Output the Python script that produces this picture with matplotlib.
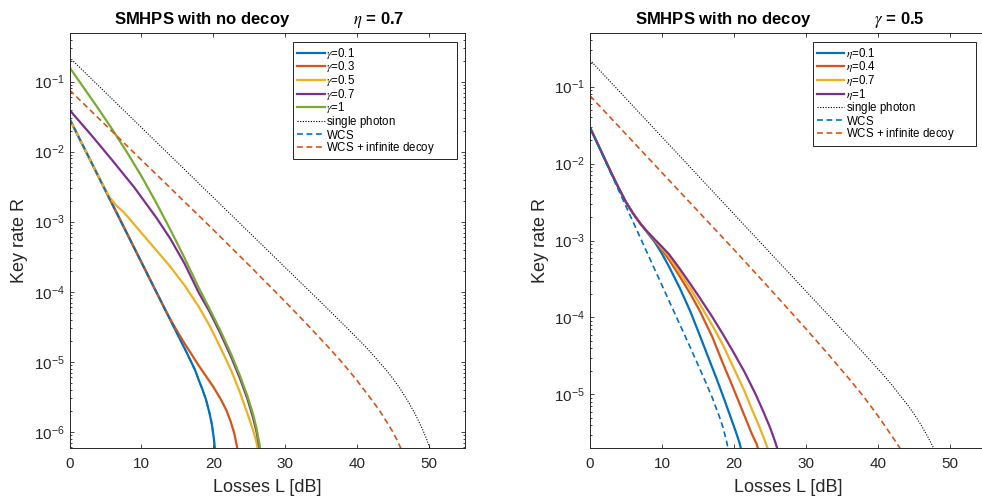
import matplotlib
matplotlib.use('Agg')
import matplotlib.pyplot as plt
from matplotlib.ticker import LogLocator, NullFormatter, MultipleLocator, FixedLocator

plt.rcParams['font.family'] = ['Liberation Sans', 'DejaVu Sans']
plt.rcParams['mathtext.fontset'] = 'stix'

# MATLAB default line colours
blue, orange, yellow, purple, green = '#0072BD', '#D95319', '#EDB120', '#7E2F8E', '#77AC30'
axcol = '#262626'

# ---- data (losses L in dB, key rate R) ----
# curves shared by both panels
L_single = [0, 10, 20, 30, 36, 39, 41, 42, 43, 44, 45, 46, 47, 48, 49, 49.5, 50, 50.4, 50.7]
R_single = [0.2213, 2.213e-2, 2.213e-3, 2.213e-4, 5.56e-5, 2.75e-5, 1.70e-5, 1.32e-5, 1.0e-5,
            7.67e-6, 5.69e-6, 4.07e-6, 2.79e-6, 1.84e-6, 1.135e-6, 8.61e-7, 6.24e-7, 4.62e-7, 1.0e-7]
L_decoy = [0, 10, 20, 25, 30, 33, 36, 38, 40, 42, 43, 44, 45, 45.5, 46, 46.3, 46.7]
R_decoy = [7.59e-2, 7.62e-3, 7.66e-4, 2.37e-4, 7.18e-5, 3.44e-5, 1.61e-5, 9.51e-6, 5.35e-6,
           2.87e-6, 2.08e-6, 1.44e-6, 9.75e-7, 7.74e-7, 6.01e-7, 5.01e-7, 1.0e-7]

# left panel: eta = 0.7, gamma varies
gammas = ['0.1', '0.3', '0.5', '0.7', '1']
L_g01 = [0, 10, 14, 15, 16, 17, 17.5, 18, 18.5, 19, 19.5, 19.8, 20.1, 20.3, 20.5]
R_g01 = [2.95e-2, 2.63e-4, 3.98e-5, 2.48e-5, 1.55e-5, 9.55e-6, 7.41e-6, 5.37e-6, 3.98e-6,
         2.82e-6, 1.78e-6, 1.26e-6, 7.59e-7, 4.47e-7, 1.0e-7]
L_g03 = [0, 10, 13, 14, 15, 16, 17, 18, 19, 20, 21, 21.8, 22.4, 22.9, 23.3, 23.5, 23.7]
R_g03 = [2.95e-2, 2.63e-4, 6.38e-5, 4.07e-5, 2.69e-5, 1.82e-5, 1.26e-5, 8.71e-6, 6.17e-6,
         4.37e-6, 2.95e-6, 2.04e-6, 1.41e-6, 9.55e-7, 6.03e-7, 3.98e-7, 1.0e-7]
L_g05 = [0, 3, 4.5, 5.5, 6.5, 7.5, 8.5, 10, 12, 14, 16, 18, 19.5, 21, 22.5, 23.7, 24.7, 25.5,
         26.0, 26.4, 26.7]
R_g05 = [2.95e-2, 7.16e-3, 3.55e-3, 2.29e-3, 1.70e-3, 1.38e-3, 1.05e-3, 6.92e-4, 3.98e-4,
         2.29e-4, 1.23e-4, 6.03e-5, 3.24e-5, 1.58e-5, 7.41e-6, 3.63e-6, 1.86e-6, 1.07e-6,
         7.08e-7, 4.17e-7, 1.0e-7]
L_g07 = [0, 3, 6, 9, 12, 14, 16, 18, 19.5, 21, 22.5, 23.7, 24.7, 25.5, 26.0, 26.4, 26.6, 26.8]
R_g07 = [3.94e-2, 1.74e-2, 7.41e-3, 3.09e-3, 1.17e-3, 5.75e-4, 2.51e-4, 9.55e-5, 5.13e-5,
         2.51e-5, 1.15e-5, 5.75e-6, 3.02e-6, 1.62e-6, 1.0e-6, 6.03e-7, 3.98e-7, 1.0e-7]
L_g1 = [0, 2, 4, 6, 8, 10, 12, 14, 16, 18, 19.5, 21, 22.5, 23.7, 24.7, 25.5, 26.0, 26.4,
        26.6, 26.8]
R_g1 = [0.160, 8.13e-2, 4.12e-2, 2.04e-2, 9.77e-3, 4.47e-3, 1.91e-3, 7.76e-4, 3.02e-4,
        1.12e-4, 5.62e-5, 2.75e-5, 1.26e-5, 6.31e-6, 3.31e-6, 1.82e-6, 1.12e-6, 6.76e-7,
        4.47e-7, 2.0e-7]
# WCS in the left panel lies under the gamma=0.1 curve
L_wcs_left = [0, 10, 14, 15, 16, 17, 17.5, 18, 18.5, 19, 19.5, 19.8, 20.1, 20.3, 20.5]
R_wcs_left = [2.95e-2, 2.63e-4, 3.98e-5, 2.48e-5, 1.55e-5, 9.55e-6, 7.41e-6, 5.37e-6, 3.98e-6,
              2.82e-6, 1.78e-6, 1.26e-6, 7.59e-7, 4.47e-7, 1.0e-7]

# right panel: gamma = 0.5, eta varies
etas = ['0.1', '0.4', '0.7', '1']
L_e01 = [0, 1, 2, 3, 4, 5, 6, 7, 8, 9, 10, 11, 12.5, 14, 15.3, 16.5, 17.5, 18.5, 19.5, 20.3,
         20.8, 21.1, 21.4]
R_e01 = [2.93e-2, 1.86e-2, 1.175e-2, 7.41e-3, 4.79e-3, 3.16e-3, 2.24e-3, 1.66e-3, 1.26e-3,
         9.55e-4, 6.76e-4, 4.57e-4, 2.40e-4, 1.17e-4, 5.75e-5, 2.95e-5, 1.70e-5, 9.55e-6,
         5.25e-6, 3.24e-6, 2.34e-6, 1.78e-6, 1.0e-6]
L_e04 = [0, 1, 2, 3, 4, 5, 6, 7, 8, 9, 10, 11, 12.5, 14, 15.3, 17, 18.5, 19.5, 20.5, 21.5,
         22.5, 23.2, 23.6, 23.9, 24.1]
R_e04 = [2.93e-2, 1.86e-2, 1.175e-2, 7.41e-3, 4.79e-3, 3.16e-3, 2.24e-3, 1.66e-3, 1.29e-3,
         1.0e-3, 7.59e-4, 5.62e-4, 3.39e-4, 2.0e-4, 1.20e-4, 5.62e-5, 2.51e-5, 1.51e-5,
         8.91e-6, 5.25e-6, 3.09e-6, 2.24e-6, 1.66e-6, 1.0e-6, 3.98e-7]
L_e07 = [0, 1, 2, 3, 4, 5, 6, 7, 8, 9, 10, 11, 12.5, 14, 15.3, 17, 18.5, 20, 21.5, 22.5,
         23.6, 24.4, 24.9, 25.2, 25.4]
R_e07 = [2.93e-2, 1.86e-2, 1.175e-2, 7.41e-3, 4.79e-3, 3.16e-3, 2.24e-3, 1.66e-3, 1.29e-3,
         1.02e-3, 7.94e-4, 6.17e-4, 3.80e-4, 2.34e-4, 1.48e-4, 7.94e-5, 4.37e-5, 2.19e-5,
         1.10e-5, 6.46e-6, 3.72e-6, 2.40e-6, 1.78e-6, 1.26e-6, 6.31e-7]
L_e1 = [0, 1, 2, 3, 4, 5, 6, 7, 8, 9, 10, 11, 12.5, 14, 15.3, 17, 18.5, 20, 21.5, 23, 24,
        25, 25.7, 26.1, 26.4, 26.6]
R_e1 = [2.93e-2, 1.86e-2, 1.175e-2, 7.41e-3, 4.79e-3, 3.16e-3, 2.24e-3, 1.66e-3, 1.29e-3,
        1.035e-3, 8.32e-4, 6.61e-4, 4.27e-4, 2.69e-4, 1.78e-4, 1.02e-4, 6.03e-5, 3.47e-5,
        1.95e-5, 1.02e-5, 6.31e-6, 3.80e-6, 2.51e-6, 1.91e-6, 1.26e-6, 6.31e-7]
L_wcs_right = [0, 10, 14, 15, 16, 17, 18, 18.5, 19, 19.3, 19.6]
R_wcs_right = [2.95e-2, 2.63e-4, 3.98e-5, 2.45e-5, 1.51e-5, 9.12e-6, 5.13e-6, 3.72e-6,
               2.45e-6, 1.74e-6, 1.0e-6]

fig = plt.figure(figsize=(9.82, 4.98), dpi=100)
ax1 = fig.add_axes([0.0708, 0.0998, 0.4028, 0.8345])
ax2 = fig.add_axes([0.6008, 0.0998, 0.4028, 0.8345])


def draw_panel(ax, curves, labels, sym, wcs, ylim, lowest_decade, title, leg_box):
    cols = [blue, orange, yellow, purple, green]
    for (L, R), lab, c in zip(curves, labels, cols):
        ax.plot(L, R, color=c, lw=1.6, label=r'$\%s$=%s' % (sym, lab))
    # the small math bits keep every legend row the same height as the greek ones
    ax.plot(L_single, R_single, color='black', lw=0.8, ls=(0, (1, 1.4)),
            label=r'single photon$\,$')
    ax.plot(wcs[0], wcs[1], color=blue, lw=1.2, ls=(0, (3.5, 2.2)), label=r'WCS$_{\,}$')
    ax.plot(L_decoy, R_decoy, color=orange, lw=1.2, ls=(0, (3.5, 2.2)),
            label=r'WCS + infinite decoy$\,$')

    ax.set_yscale('log')
    ax.set_xlim(0, 55)
    ax.set_ylim(*ylim)
    ax.xaxis.set_major_locator(MultipleLocator(10))
    ax.yaxis.set_major_locator(FixedLocator([10.0 ** k for k in range(lowest_decade, 0)]))
    ax.yaxis.set_minor_locator(LogLocator(base=10, subs=range(2, 10), numticks=20))
    ax.yaxis.set_minor_formatter(NullFormatter())
    ax.tick_params(which='both', direction='in', top=True, right=True, colors=axcol,
                   labelsize=11, width=0.6)
    ax.tick_params(which='major', length=3)
    ax.tick_params(which='minor', length=1.6)
    ax.tick_params(axis='x', pad=6.5)
    for s in ax.spines.values():
        s.set_color(axcol)
        s.set_linewidth(0.7)
    ax.set_xlabel('Losses L [dB]', fontsize=13, color=axcol, labelpad=5.5)
    ax.set_ylabel('Key rate R', fontsize=13, color=axcol)
    ax.set_title(title, fontsize=12, fontweight='bold', pad=6.5, x=0.479)
    leg = ax.legend(loc='upper left', bbox_to_anchor=leg_box, mode='expand', fontsize=8.3,
                    handlelength=2.4, handletextpad=0.15, labelspacing=-0.11, borderpad=0.32,
                    borderaxespad=0, fancybox=False, framealpha=1)
    leg.get_frame().set_edgecolor('black')
    leg.get_frame().set_linewidth(0.6)


draw_panel(ax1, [(L_g01, R_g01), (L_g03, R_g03), (L_g05, R_g05), (L_g07, R_g07), (L_g1, R_g1)],
           gammas, 'gamma', (L_wcs_left, R_wcs_left), (5.8e-7, 0.5), -6,
           'SMHPS with no decoy' + ' ' * 14 + r'$\eta$ = 0.7',
           (0.566, 0.0, 0.413, 0.978))
draw_panel(ax2, [(L_e01, R_e01), (L_e04, R_e04), (L_e07, R_e07), (L_e1, R_e1)],
           etas, 'eta', (L_wcs_right, R_wcs_right), (2e-6, 0.5), -5,
           'SMHPS with no decoy' + ' ' * 14 + r'$\gamma$ = 0.5',
           (0.564, 0.0, 0.4126, 0.978))

fig.savefig('out.png', dpi=100)
